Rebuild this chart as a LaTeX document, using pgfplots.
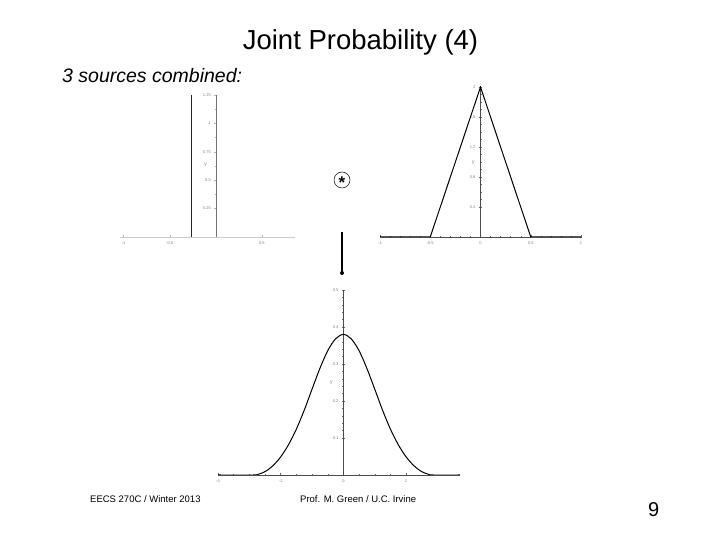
\documentclass[border=0pt]{standalone}
\usepackage{fontspec}
\setmainfont{Liberation Sans}
\usepackage{pgfplots}
\pgfplotsset{compat=1.18}

\pgfplotsset{
  slideplot/.style={
    scale only axis, anchor=south west,
    axis lines=middle, axis line style={-, black!70},
    tick style={black!60, line width=0.4pt},
    major tick length=3pt, minor tick length=2pt,
    tick label style={font=\fontsize{4}{4}\selectfont, text=gray},
    /pgf/number format/assume math mode=true,
    hide obscured x ticks=false, hide obscured y ticks=false,
  },
}

\begin{document}
\begin{tikzpicture}
\useasboundingbox[fill=white] (0,0) rectangle (720pt,540pt);

\node[anchor=base, inner sep=0, font=\fontsize{27.5}{30}\selectfont] at (360.5pt,490pt) {Joint Probability (4)};
\node[anchor=base west, inner sep=0, font=\itshape\fontsize{19.5}{22}\selectfont] at (62pt,457pt) {3 sources combined:};

% uniform source
\begin{axis}[slideplot, at={(120pt,303pt)}, width=175pt, height=142pt,
    xmin=-1.04, xmax=0.86, ymin=0, ymax=1.25,
    xtick={-1,-0.5,0.5}, ytick={0.25,0.5,0.75,1,1.25},
    minor x tick num=4, minor y tick num=1,
    x axis line style={black!20}, y axis line style={black!55},
    tick style={black!30}]
  \addplot[black!85, line width=1pt] coordinates {(-0.26,0) (-0.26,1.25)};
  \node[font=\fontsize{5}{5}\selectfont, text=gray] at (axis cs:-0.11,0.64) {y};
\end{axis}

% triangle
\begin{axis}[slideplot, at={(380pt,303pt)}, width=201pt, height=150pt,
    xmin=-1, xmax=1, ymin=0, ymax=2,
    xtick={-1,-0.5,0,0.5,1}, ytick={0.4,0.8,1.2,1.6,2},
    minor x tick num=4, minor y tick num=3]
  \addplot[black, line width=1pt] coordinates {(-1,0) (-0.5,0) (0,2) (0.5,0) (1,0)};
  \node[font=\fontsize{5}{5}\selectfont, text=gray] at (axis cs:-0.07,0.99) {y};
\end{axis}

% combined
\begin{axis}[slideplot, at={(218pt,65pt)}, width=242pt, height=185pt,
    xmin=-4, xmax=3.72, ymin=0, ymax=0.5,
    xtick={-4,-2,0,2}, ytick={0.1,0.2,0.3,0.4,0.5},
    minor x tick num=3, minor y tick num=4]
  \addplot[black, line width=1pt, smooth] coordinates {
    (-4,0) (-2.85,0) (-2.75,0.001) (-2.5,0.009) (-2.25,0.025) (-2,0.049)
    (-1.75,0.082) (-1.5,0.124) (-1.25,0.175) (-1,0.232) (-0.75,0.288)
    (-0.5,0.336) (-0.25,0.368) (0,0.380) (0.25,0.368) (0.5,0.336)
    (0.75,0.288) (1,0.232) (1.25,0.175) (1.5,0.124) (1.75,0.082)
    (2,0.049) (2.25,0.025) (2.5,0.009) (2.75,0.001) (2.85,0) (3.72,0)};
  \node[font=\fontsize{5}{5}\selectfont, text=gray] at (axis cs:-0.38,0.25) {y};
\end{axis}

% convolution sign and arrow
\draw[line width=0.5pt] (342pt,360pt) circle (8pt);
\node[inner sep=0, font=\bfseries\fontsize{17}{17}\selectfont] at (342pt,357pt) {*};
\draw[line width=1.6pt] (342pt,308pt) -- (342pt,267pt);
\fill (342pt,267pt) circle (2pt);

% footer
\node[anchor=base west, inner sep=0, font=\fontsize{9.5}{10}\selectfont] at (90pt,37pt) {EECS 270C / Winter 2013};
\node[anchor=base west, inner sep=0, font=\fontsize{9.5}{10}\selectfont] at (300pt,37pt) {Prof. M. Green / U.C. Irvine};
\node[anchor=base west, inner sep=0, font=\fontsize{20}{20}\selectfont] at (648pt,23pt) {9};
\end{tikzpicture}
\end{document}
